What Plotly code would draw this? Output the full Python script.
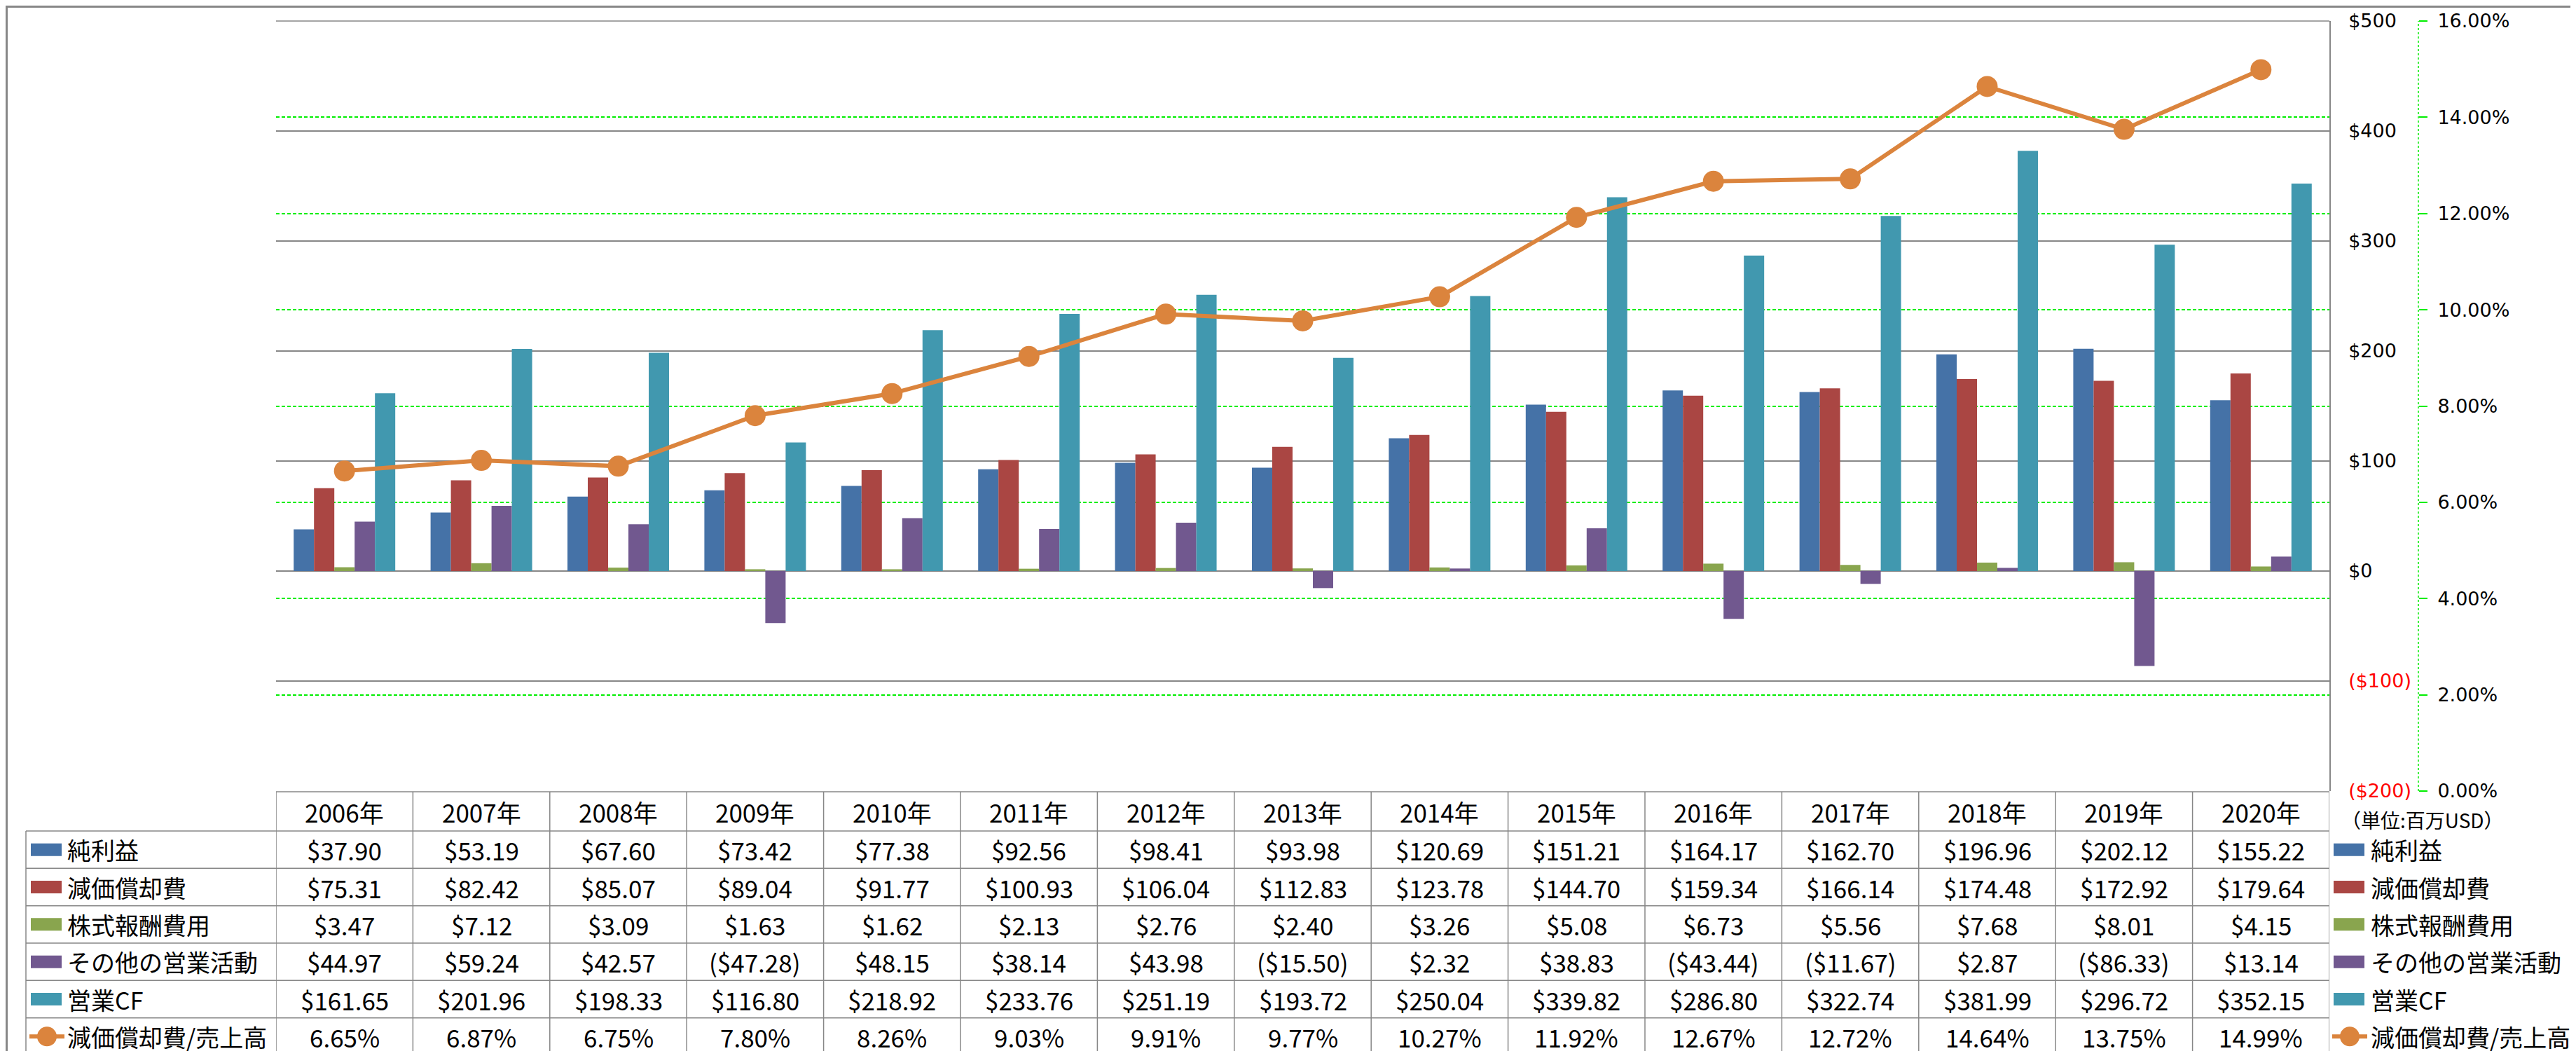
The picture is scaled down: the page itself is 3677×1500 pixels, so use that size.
import plotly.graph_objects as go

# ---------------- data ----------------
years = ["2006年", "2007年", "2008年", "2009年", "2010年", "2011年", "2012年", "2013年",
         "2014年", "2015年", "2016年", "2017年", "2018年", "2019年", "2020年"]
net_income = [37.90, 53.19, 67.60, 73.42, 77.38, 92.56, 98.41, 93.98, 120.69, 151.21,
              164.17, 162.70, 196.96, 202.12, 155.22]
depreciation = [75.31, 82.42, 85.07, 89.04, 91.77, 100.93, 106.04, 112.83, 123.78, 144.70,
                159.34, 166.14, 174.48, 172.92, 179.64]
stock_comp = [3.47, 7.12, 3.09, 1.63, 1.62, 2.13, 2.76, 2.40, 3.26, 5.08,
              6.73, 5.56, 7.68, 8.01, 4.15]
other_ops = [44.97, 59.24, 42.57, -47.28, 48.15, 38.14, 43.98, -15.50, 2.32, 38.83,
             -43.44, -11.67, 2.87, -86.33, 13.14]
operating_cf = [161.65, 201.96, 198.33, 116.80, 218.92, 233.76, 251.19, 193.72, 250.04, 339.82,
                286.80, 322.74, 381.99, 296.72, 352.15]
dep_ratio_pct = [6.65, 6.87, 6.75, 7.80, 8.26, 9.03, 9.91, 9.77, 10.27, 11.92,
                 12.67, 12.72, 14.64, 13.75, 14.99]

series_names = ["純利益", "減価償却費", "株式報酬費用", "その他の営業活動", "営業CF", "減価償却費/売上高"]
left_ticks = [-200, -100, 0, 100, 200, 300, 400, 500]
right_ticks_pct = [0, 2, 4, 6, 8, 10, 12, 14, 16]
unit_label = "（単位:百万USD）"

# ---------------- styling ----------------
colors = ["#4572A7", "#AA4643", "#89A54E", "#71588F", "#4198AF", "#DB843D"]
FONT = "Noto Sans CJK JP"
AXFONT = "DejaVu Sans"
GRAY = "#878787"
GREEN = "#00EE00"

W, H = 3677, 1500
PL, PR_AX, PR2, PT, PB = 386, 3317, 3444, 22, 1121


def xp(px):
    return (px - PL) / (PR2 - PL)


def yp(py):
    return (PB - py) / (PB - PT)


def money(v):
    s = "${:,.2f}".format(abs(v))
    return "(" + s + ")" if v < 0 else s


def tick_money(v):
    s = "${:,.0f}".format(abs(v))
    if v < 0:
        return '<span style="color:#FF0000">(' + s + ')</span>'
    return s


fig = go.Figure()
bar_series = [net_income, depreciation, stock_comp, other_ops, operating_cf]
for name, vals, c in zip(series_names[:5], bar_series, colors[:5]):
    fig.add_trace(go.Bar(x=years, y=vals, name=name, marker=dict(color=c, line=dict(width=0)),
                         showlegend=False))

ratio = [v / 100 for v in dep_ratio_pct]
fig.add_trace(go.Scatter(x=years, y=ratio, name=series_names[5], yaxis="y2", mode="lines+markers",
                         line=dict(color=colors[5], width=6),
                         marker=dict(color=colors[5], size=30, symbol="circle"),
                         showlegend=False))

dom_end = xp(PR_AX)

fig.update_layout(
    width=W, height=H,
    margin=dict(l=PL, r=W - PR2, t=PT, b=H - PB, autoexpand=False),
    paper_bgcolor="white", plot_bgcolor="white",
    barmode="group", bargap=0.258, bargroupgap=0,
    font=dict(family=FONT, color="black", size=30),
    xaxis=dict(type="category", domain=[0, dom_end], range=[-0.5, 14.5],
               showticklabels=False, showgrid=False, zeroline=False, showline=False, ticks=""),
    yaxis=dict(range=[-200, 500.0001], side="right", anchor="x",
               tickvals=left_ticks, ticktext=[tick_money(v) for v in left_ticks],
               showgrid=True, gridcolor=GRAY, gridwidth=1.5,
               showline=True, linecolor=GRAY, linewidth=1.5,
               zeroline=False, ticks="", ticklabelstandoff=20, ticklabeloverflow="allow",
               tickfont=dict(size=27, family=AXFONT, color="black"), automargin=False),
    yaxis2=dict(range=[0, 0.1600001], overlaying="y", side="right", anchor="free", position=1,
                tickvals=[v / 100 for v in right_ticks_pct],
                ticktext=["{:.2f}%".format(v) for v in right_ticks_pct],
                showgrid=True, gridcolor=GREEN, gridwidth=1.5, griddash="5px,3px",
                ticks="outside", ticklen=12, tickcolor=GREEN, tickwidth=1.5,
                showline=False, zeroline=False, ticklabelstandoff=9, ticklabeloverflow="allow",
                tickfont=dict(size=27, family=AXFONT, color="black"), automargin=False),
)

shapes = []
annotations = []

# top gridline (plot edge) and secondary axis line (green dotted)
shapes.append(dict(type="line", xref="paper", yref="paper", x0=0, x1=dom_end, y0=1, y1=1,
                   line=dict(color=GRAY, width=1.5)))
shapes.append(dict(type="line", xref="paper", yref="paper", x0=1, x1=1, y0=0, y1=1,
                   line=dict(color=GREEN, width=1.5, dash="3px,3px")))

# ---------------- data table ----------------
T_TOP, T_HEAD, T_BOT = 1122, 1178, 1498
row_h = (T_BOT - T_HEAD) / 6
LEFT = 29
lc = dict(color=GRAY, width=1.5)

shapes.append(dict(type="line", xref="x", yref="paper", x0=-0.5, x1=14.5, y0=yp(T_TOP), y1=yp(T_TOP), line=lc))
for r in range(7):
    yy = yp(T_HEAD + r * row_h)
    shapes.append(dict(type="line", xref="paper", yref="paper", x0=xp(LEFT), x1=dom_end,
                       y0=yy, y1=yy, line=lc))
shapes.append(dict(type="line", xref="paper", yref="paper", x0=xp(LEFT), x1=xp(LEFT),
                   y0=yp(T_HEAD), y1=yp(T_BOT), line=lc))
for k in range(16):
    shapes.append(dict(type="line", xref="x", yref="paper", x0=k - 0.5, x1=k - 0.5,
                       y0=yp(T_TOP), y1=yp(T_BOT), line=lc))

for yr in years:
    annotations.append(dict(x=yr, xref="x", y=yp((T_TOP + T_HEAD) / 2), yref="paper",
                            text=yr, showarrow=False, xanchor="center", yanchor="middle",
                            font=dict(size=35, family=FONT, color="black")))

row_texts = [[money(v) for v in s] for s in bar_series] + [["{:.2f}%".format(v) for v in dep_ratio_pct]]


def add_key(cx_left, cy, idx):
    if idx < 5:
        shapes.append(dict(type="rect", xref="paper", yref="paper",
                           x0=xp(cx_left), x1=xp(cx_left + 44), y0=yp(cy + 9), y1=yp(cy - 9),
                           fillcolor=colors[idx], line=dict(width=0)))
    else:
        shapes.append(dict(type="line", xref="paper", yref="paper",
                           x0=xp(cx_left - 2), x1=xp(cx_left + 48), y0=yp(cy), y1=yp(cy),
                           line=dict(color=colors[5], width=6)))
        shapes.append(dict(type="circle", xref="paper", yref="paper",
                           x0=xp(cx_left + 9), x1=xp(cx_left + 37), y0=yp(cy + 14), y1=yp(cy - 14),
                           fillcolor=colors[5], line=dict(width=0)))


for r in range(6):
    cy = T_HEAD + (r + 0.5) * row_h
    for yr, t in zip(years, row_texts[r]):
        annotations.append(dict(x=yr, xref="x", y=yp(cy), yref="paper", text=t, showarrow=False,
                                xanchor="center", yanchor="middle",
                                font=dict(size=35, family=FONT, color="black")))
    add_key(36, cy, r)
    annotations.append(dict(x=xp(86), xref="paper", y=yp(cy), yref="paper", text=series_names[r],
                            showarrow=False, xanchor="left", yanchor="middle",
                            font=dict(size=34, family=FONT, color="black")))
    add_key(3323, cy, r)
    annotations.append(dict(x=xp(3374), xref="paper", y=yp(cy), yref="paper", text=series_names[r],
                            showarrow=False, xanchor="left", yanchor="middle",
                            font=dict(size=34, family=FONT, color="black")))

annotations.append(dict(x=xp(3450), xref="paper", y=yp(1162), yref="paper", text=unit_label,
                        showarrow=False, xanchor="center", yanchor="middle",
                        font=dict(size=28, family=FONT, color="black")))

shapes.append(dict(type="rect", xref="paper", yref="paper", x0=xp(1.5), x1=xp(3675.5),
                   y0=yp(1498.5), y1=yp(1.5), line=dict(color=GRAY, width=3), fillcolor="rgba(0,0,0,0)"))

fig.update_layout(shapes=shapes, annotations=annotations)
fig.write_html("out.html")
